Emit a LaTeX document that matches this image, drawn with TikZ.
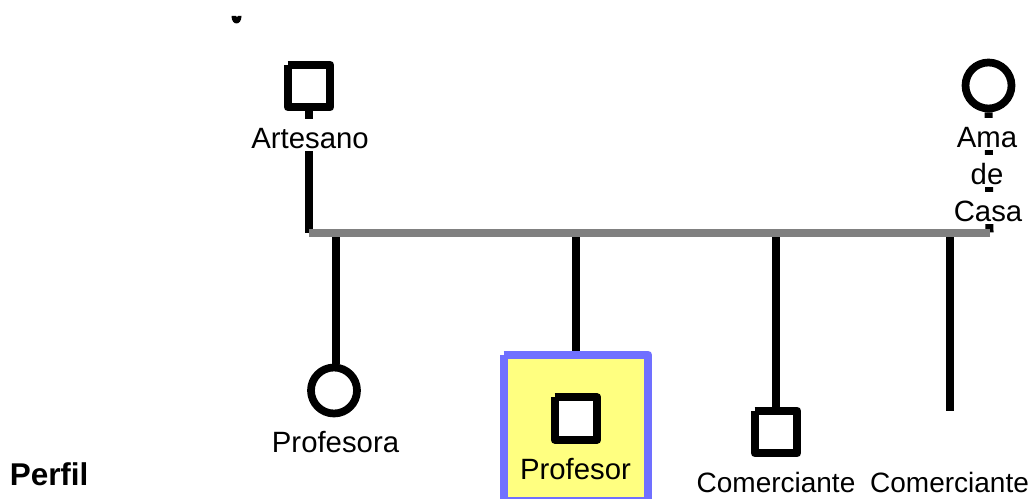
\documentclass[tikz,border=0pt]{standalone}
\usepackage{fontspec}
\setmainfont{Liberation Sans}
\definecolor{bluebox}{HTML}{7070FF}
\definecolor{yellowbox}{HTML}{FFFF80}
\definecolor{barcol}{HTML}{808080}
\tikzset{
  px/.style={x=0.75pt,y=-0.75pt},
  kin/.style={line width=6pt,draw=black,line cap=butt},
  bar/.style={line width=6pt,draw=barcol,line cap=butt},
  sq/.style={rectangle,minimum size=31.5pt,inner sep=0pt,fill=white},
  ci/.style={circle,minimum size=34.5pt,inner sep=0pt,fill=white,draw=black,line width=5.8pt},
  open/.style={line width=6pt,draw=black,line join=round,line cap=butt},
  lab/.style={anchor=base,inner sep=0pt,font=\fontsize{22}{24}\selectfont},
  labw/.style={lab,fill=white,text height=22pt,text depth=2pt},
  labc/.style={lab,font=\fontsize{21}{24}\selectfont},
  ego/.style={rectangle,inner sep=0pt,minimum width=108pt,minimum height=109.5pt,fill=yellowbox},
}
\begin{document}
\begin{tikzpicture}[px]
\clip (0,0) rectangle (1034,499);
% coordinates on the sibling bar
\coordinate (bl) at (309,232.5);
\coordinate (br) at (989.5,232.5);
\coordinate (b1) at (335.5,232.5);
\coordinate (b2) at (576,232.5);
\coordinate (b3) at (776,232.5);
\coordinate (b4) at (950,232.5);
\coordinate (e4) at (950,411);
% highlighted box
\node[ego] (box) at (576,428) {};
\draw[open,draw=bluebox] (box.north west) -| (box.south east) -| (box.north west);
% symbols
\node[sq] (fa) at (309,86) {};
\draw[open] (fa.north west) -| (fa.south east) -| (fa.north west);
\node[ci] (mo) at (988.5,85.5) {};
\node[ci] (da) at (334,390.5) {};
\node[sq] (me) at (576,418.5) {};
\draw[open] (me.north west) -| (me.south east) -| (me.north west);
\node[sq] (br3) at (776,432) {};
\draw[open] (br3.north west) -| (br3.south east) -| (br3.north west);
% connectors
\draw[kin] (fa.south) -- (bl);
\draw[kin] (mo.south) -- (br);
\draw[kin] (b1) -- (b1 |- da.north);
\draw[kin,shorten >=3pt] (b2) -- (b2 |- box.north);
\draw[kin] (b3) -- (b3 |- br3.north);
\draw[kin] (b4) -- (e4);
\draw[bar] (bl) -- (br);
% labels
\node[labw] (tfa) at (310,148) {Artesano};
\node[labw,text height=21.75pt,text depth=2.25pt] (tm1) at (987,147) {Ama};
\node[labw,text height=21.75pt,text depth=2.25pt] (tm2) at (987,184) {de};
\node[labw,text height=21.75pt,text depth=2.25pt] (tm3) at (988,221) {Casa};
\node[lab] (tda) at (335.5,452.5) {Profesora};
\node[lab] (tme) at (575.5,479) {Profesor};
\node[labc] (tb3) at (776,492) {Comerciante};
\node[labc] (tb4) at (949.5,492) {Comerciante};
\node[anchor=base west,inner sep=0pt,font=\fontsize{23.6}{26}\selectfont\bfseries] (per) at (9.5,485) {Perfil};
% stray mark at the top
\fill[black] (231.5,16) .. controls (231.5,26) and (241.5,26) .. (241.5,16) -- (238,16) .. controls (238,17.5) and (236,17.5) .. (236,16) -- cycle;
\end{tikzpicture}
\end{document}
